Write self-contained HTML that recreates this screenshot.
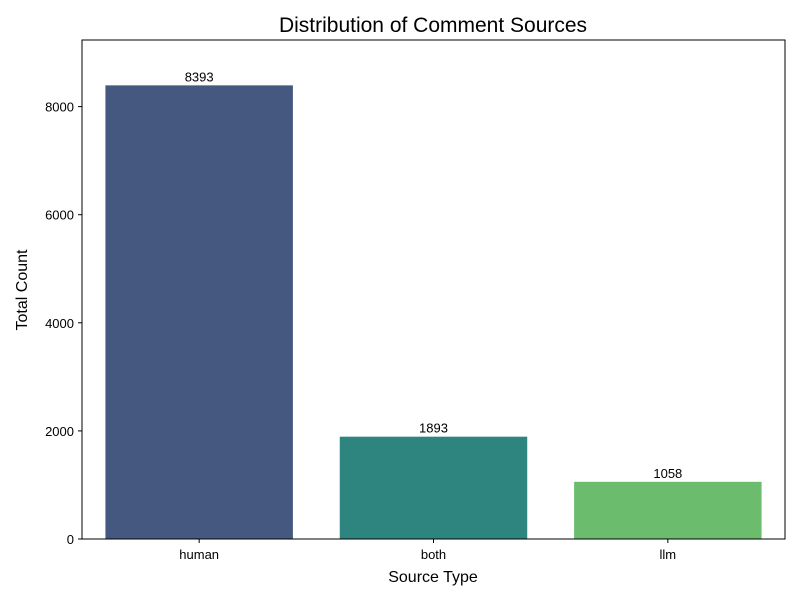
<!DOCTYPE html>
<html><head><meta charset="utf-8"><style>
body{margin:0;background:#fff;}
svg text{font-family:"Liberation Sans","DejaVu Sans",sans-serif;}
</style></head><body>
<svg id="chart" width="800" height="600" viewBox="0 0 800 600" xmlns="http://www.w3.org/2000/svg">
<rect width="800" height="600" fill="#fff"/>
<text x="433" y="32" font-size="21" text-anchor="middle" fill="#000">Distribution of Comment Sources</text>
<text x="433" y="582" font-size="16" text-anchor="middle">Source Type</text>
<text x="27" y="290" font-size="16" text-anchor="middle" transform="rotate(-90 27 290)">Total Count</text>
<g id="bars"></g>
<g id="yticks"></g>
<g id="xticks"></g>
<rect x="82" y="40" width="703" height="499" fill="none" stroke="#000" stroke-width="1"/>
</svg>
<script>
const categories = ["human", "both", "llm"];
const counts = [8393, 1893, 1058];
const yTicks = [0, 2000, 4000, 6000, 8000];
const colors = ["#455880", "#2e8580", "#6bbd6d"];

const plotLeft = 82, plotRight = 785, plotTop = 40, plotBottom = 539;
const yMax = Math.max(...counts) * 1.1;
function yScale(v){ return plotBottom - v / yMax * (plotBottom - plotTop); }
const band = (plotRight - plotLeft) / categories.length;
function xCenter(i){ return plotLeft + band * (i + 0.5); }
const ns = "http://www.w3.org/2000/svg";
const barsG = document.getElementById("bars");
const ytG = document.getElementById("yticks");
const xtG = document.getElementById("xticks");

categories.forEach((c, i) => {
  const w = band * 0.8;
  const r = document.createElementNS(ns, "rect");
  r.setAttribute("x", xCenter(i) - w / 2);
  r.setAttribute("y", yScale(counts[i]));
  r.setAttribute("width", w);
  r.setAttribute("height", plotBottom - yScale(counts[i]));
  r.setAttribute("fill", colors[i]);
  
  
  barsG.appendChild(r);
  const t = document.createElementNS(ns, "text");
  t.setAttribute("x", xCenter(i));
  t.setAttribute("y", yScale(counts[i]) - 4);
  t.setAttribute("font-size", "13");
  t.setAttribute("text-anchor", "middle");
  t.textContent = counts[i];
  
  
  barsG.appendChild(t);
  const tk = document.createElementNS(ns, "line");
  tk.setAttribute("x1", xCenter(i)); tk.setAttribute("x2", xCenter(i));
  tk.setAttribute("y1", plotBottom); tk.setAttribute("y2", plotBottom + 4);
  tk.setAttribute("stroke", "#000");
  
  
  xtG.appendChild(tk);
  const xl = document.createElementNS(ns, "text");
  xl.setAttribute("x", xCenter(i)); xl.setAttribute("y", plotBottom + 20);
  xl.setAttribute("font-size", "13"); xl.setAttribute("text-anchor", "middle");
  xl.textContent = c;
  
  
  xtG.appendChild(xl);
});

yTicks.forEach(v => {
  const y = yScale(v);
  const tk = document.createElementNS(ns, "line");
  tk.setAttribute("x1", plotLeft - 4); tk.setAttribute("x2", plotLeft);
  tk.setAttribute("y1", y); tk.setAttribute("y2", y);
  tk.setAttribute("stroke", "#000");
  
  
  ytG.appendChild(tk);
  const l = document.createElementNS(ns, "text");
  l.setAttribute("x", plotLeft - 8); l.setAttribute("y", y + 5);
  l.setAttribute("font-size", "13"); l.setAttribute("text-anchor", "end");
  l.textContent = v;
  
  
  ytG.appendChild(l);
});
</script>
</body></html>
